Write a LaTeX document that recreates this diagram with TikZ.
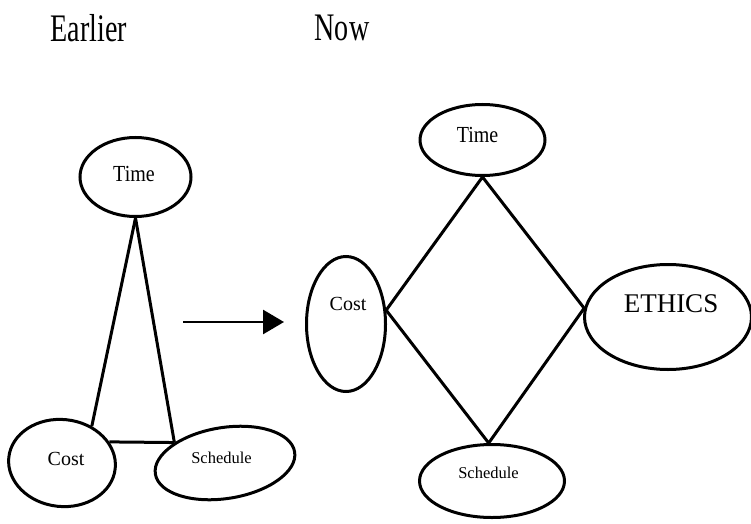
\documentclass[tikz,border=0pt]{standalone}
\usepackage{graphicx}
\usepackage{fontspec}
\setmainfont{Liberation Serif}
\usetikzlibrary{shapes.geometric,arrows.meta}

\begin{document}
\begin{tikzpicture}[x=1pt,y=1pt,
  oval/.style={draw, ellipse, line width=3pt, inner sep=0pt},
  link/.style={line width=3pt, line join=miter},
  txt/.style={anchor=base, inner sep=0pt},
  bigtxt/.style={txt, font=\fontsize{39}{39}\selectfont},
  midtxt/.style={txt, font=\fontsize{20}{20}\selectfont},
  smalltxt/.style={txt, font=\fontsize{16.5}{16.5}\selectfont}]

  \fill[white] (0,0) rectangle (751,523);
  \useasboundingbox (0,0) rectangle (751,523);

  % headings
  \node[bigtxt] (hEarlier) at (89,481) {\scalebox{0.72}[1]{Earlier}};
  \node[bigtxt] (hNow) at (342,482) {\scalebox{0.72}[1]{Now}};

  % earlier: the triangle of constraints
  \node[oval, minimum width=111, minimum height=79] (timeL) at (135.5,346) {};
  \node[oval, minimum width=107, minimum height=87, rotate=-6] (costL) at (62,60) {};
  \node[oval, minimum width=141, minimum height=71, rotate=9] (schedL) at (225,60) {};

  \node[midtxt] (tTimeL) at (134,342) {\scalebox{1}[1.15]{Time}};
  \node[midtxt] (tCostL) at (66,58) {Cost};
  \node[smalltxt] (tSchedL) at (221.5,60) {Schedule};

  \draw[link] (timeL.south) -- (costL.57);
  \draw[link] (costL.30) -- (schedL.149);
  \draw[link] (schedL.149) -- (timeL.south);

  % transition arrow
  \coordinate (aS) at (183,201);
  \coordinate (aE) at (284,201);
  \draw[line width=2.8pt, -{Triangle[length=21pt,width=24pt]}] (aS) -- (aE);

  % now: the diamond with ethics
  \node[oval, minimum width=125, minimum height=71] (timeR) at (482.5,383) {};
  \node[oval, minimum width=79, minimum height=135] (costR) at (346,199) {};
  \node[oval, minimum width=167, minimum height=105] (ethics) at (668,206) {};
  \node[oval, minimum width=145, minimum height=73] (schedR) at (492,42) {};

  \node[midtxt] (tTimeR) at (477.5,381) {\scalebox{1}[1.15]{Time}};
  \node[midtxt] (tCostR) at (348,213) {Cost};
  \node[txt, font=\fontsize{27}{27}\selectfont] (tEthics) at (671,211) {ETHICS};
  \node[smalltxt] (tSchedR) at (488.5,45) {Schedule};

  \draw[link] (timeR.south) -- (costR.19) -- (schedR.95) -- (ethics.174) -- cycle;
\end{tikzpicture}
\end{document}
